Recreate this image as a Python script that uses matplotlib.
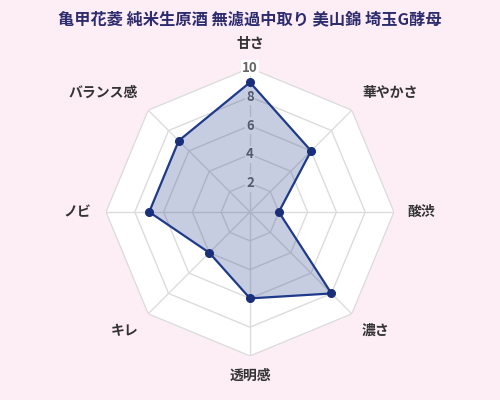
import numpy as np
import matplotlib
matplotlib.use("Agg")
import matplotlib.pyplot as plt

plt.rcParams['font.family'] = ['Noto Sans CJK JP', 'DejaVu Sans']

title = "亀甲花菱 純米生原酒 無濾過中取り 美山錦 埼玉G酵母"
categories = ["甘さ", "華やかさ", "酸渋", "濃さ", "透明感", "キレ", "ノビ", "バランス感"]
values = [9, 6, 2, 8, 6, 4, 7, 7]
ticks = [2, 4, 6, 8, 10]

bg = "#fdedf5"
line_col = "#1f3a8a"
grid_col = "#dcdcdc"

n = len(categories)
angles = np.linspace(0, 2 * np.pi, n, endpoint=False)
closed = np.append(angles, angles[0])

fig = plt.figure(figsize=(5, 4), dpi=100, facecolor=bg)
ax = fig.add_axes([0.212, 0.11, 0.576, 0.72], projection='polar')
ax.set_facecolor(bg)
ax.set_theta_offset(np.pi / 2)
ax.set_theta_direction(-1)
ax.set_ylim(0, 10)
ax.spines['polar'].set_visible(False)
ax.grid(False)
ax.set_xticks([])
ax.set_yticks([])

# white octagon background and grid
ax.fill(closed, [10] * (n + 1), color='white', zorder=0)
for t in ticks:
    ax.plot(closed, [t] * (n + 1), color=grid_col, lw=1, zorder=1)
for a in angles:
    ax.plot([a, a], [0, 10], color=grid_col, lw=1, zorder=1)

# tick labels (under the data fill)
for t in ticks:
    ax.text(0, t, str(t), ha='center', va='center', fontsize=9.5, fontweight='bold',
            color='#666666', zorder=1.5,
            bbox=dict(boxstyle='square,pad=0.1', fc='white', ec='none'))

# data
vals = values + values[:1]
ax.fill(closed, vals, color=line_col, alpha=0.25, lw=0, zorder=2)
ax.plot(closed, vals, color=line_col, lw=1.6, zorder=3)
ax.plot(angles, values, 'o', color="#1a2f7a", ms=5.5, zorder=4)

# category labels
layout = [
    (11.2, 'center', 'bottom'),
    (11.0, 'left', 'bottom'),
    (10.9, 'left', 'center'),
    (11.0, 'left', 'top'),
    (10.9, 'center', 'top'),
    (11.0, 'right', 'top'),
    (11.0, 'right', 'center'),
    (11.0, 'right', 'bottom'),
]
for a, lab, (r, ha, va) in zip(angles, categories, layout):
    ax.text(a, r, lab, ha=ha, va=va, fontsize=10, color='#333333',
            fontweight='bold', clip_on=False)

fig.text(0.5, 0.952, title, ha='center', va='center', fontsize=11.7,
         fontweight='bold', color='#2c2c6e')

fig.savefig("out.png", dpi=100, facecolor=bg)
